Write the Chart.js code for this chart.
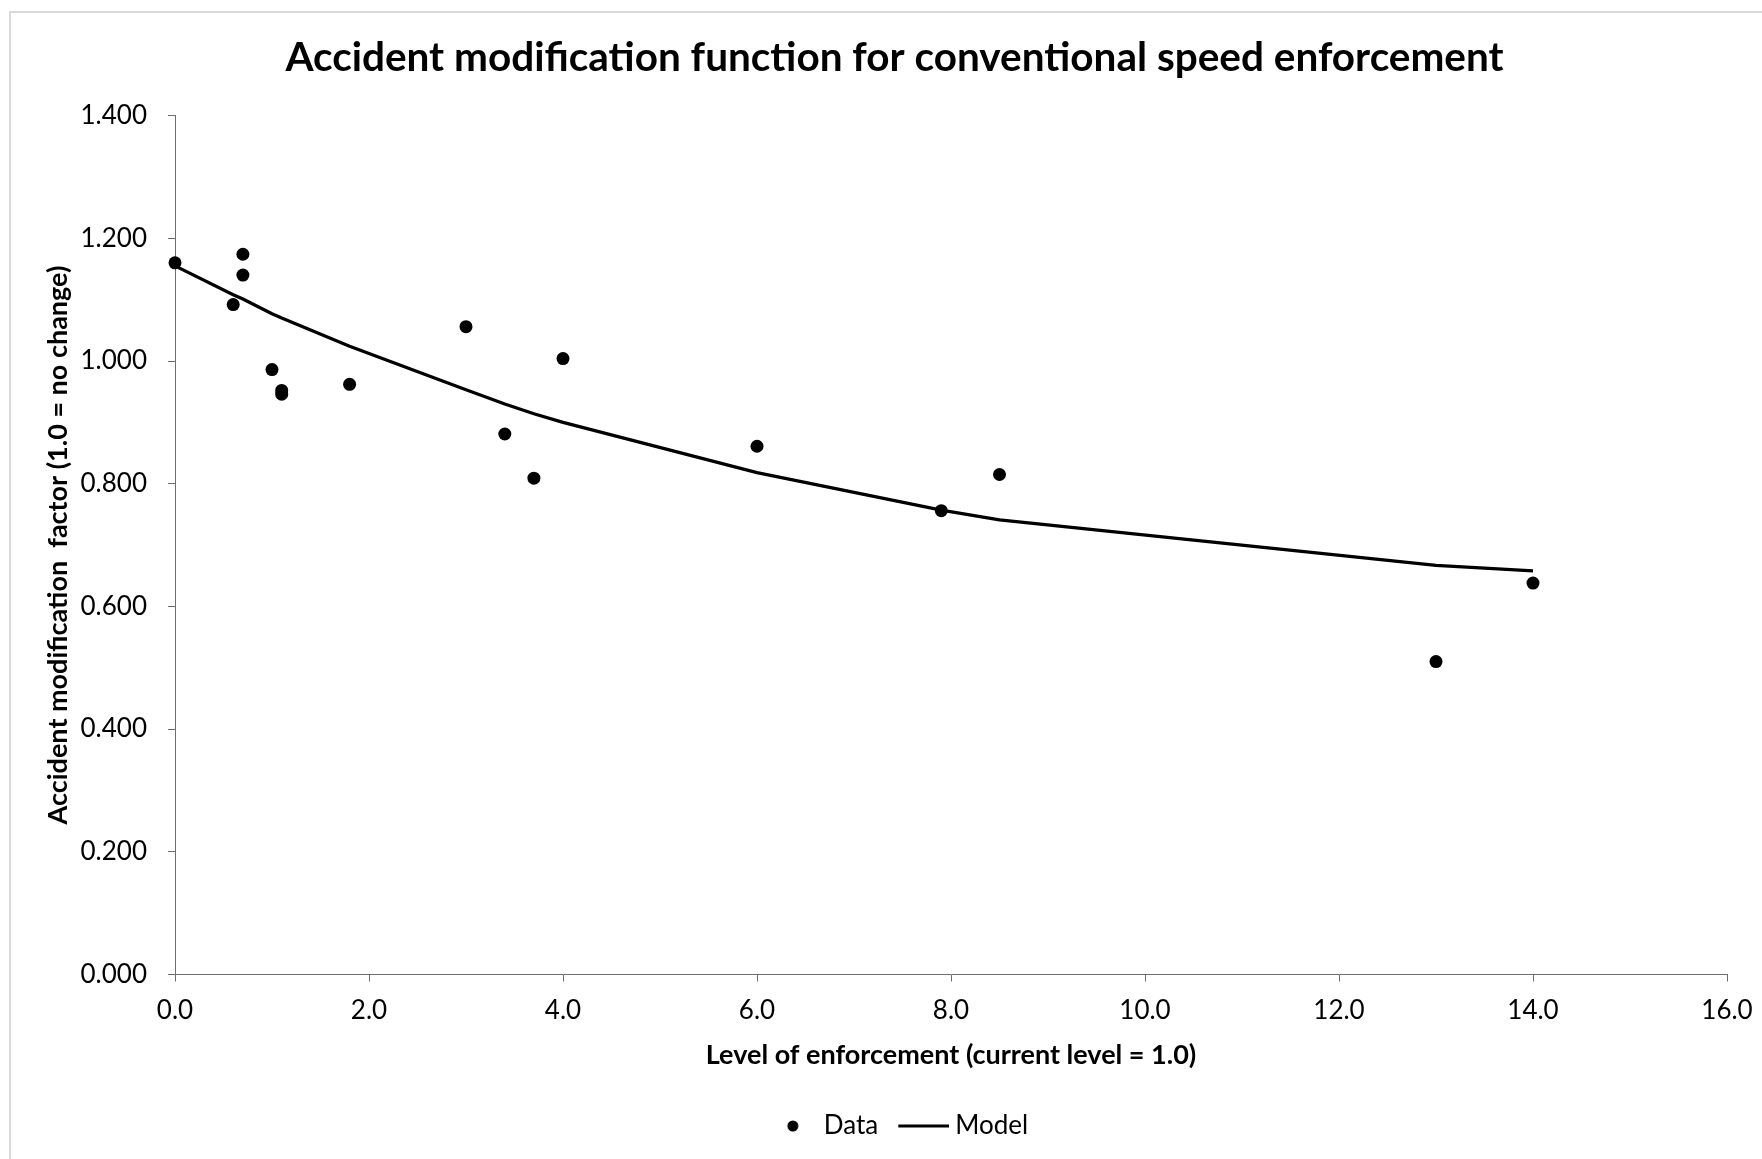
<!DOCTYPE html>
<html>
<head>
<meta charset="utf-8">
<title>Accident modification function</title>
<script src="https://cdn.jsdelivr.net/npm/chart.js@4.4.1/dist/chart.umd.min.js"></script>
<style>
  html, body { margin: 0; padding: 0; background: #fff; overflow: hidden; }
  #frame {
    position: absolute; left: 9px; top: 11px; width: 1800px; height: 1200px;
    border: 2px solid #d9d9d9; box-sizing: border-box;
  }
  #wrap { position: absolute; left: 0; top: 0; }
</style>
</head>
<body>
<div id="frame"></div>
<div id="wrap"><canvas id="amf-chart" width="1788" height="1159"></canvas></div>
<script>
// Valores
const dataX = [0.0, 0.6, 0.7, 0.7, 1.0, 1.1, 1.1, 1.8, 3.0, 3.4, 3.7, 4.0, 6.0, 7.9, 8.5, 13.0, 14.0];
const dataY = [1.160, 1.092, 1.174, 1.140, 0.986, 0.952, 0.946, 0.962, 1.056, 0.881, 0.809, 1.004, 0.861, 0.756, 0.815, 0.510, 0.638];

const modelX = [0.0, 0.6, 0.7, 1.0, 1.1, 1.8, 3.0, 3.4, 3.7, 4.0, 6.0, 7.9, 8.5, 13.0, 14.0];
const modelY = [1.155, 1.108, 1.101, 1.077, 1.070, 1.024, 0.953, 0.930, 0.914, 0.900, 0.818, 0.757, 0.741, 0.667, 0.658];

const seriesNames = ["Data", "Model"];

const FONT = "Lato, 'Open Sans', sans-serif";
const AXIS_COLOR = "#6e6e6e";

// Marcadores da legenda (desenhados em canvas pequenos)
const dot = document.createElement("canvas");
dot.width = 50;
dot.height = 12;
const dctx = dot.getContext("2d");
dctx.fillStyle = "#000";
dctx.beginPath();
dctx.arc(32, 6, 5.5, 0, Math.PI * 2);
dctx.fill();

const dash = document.createElement("canvas");
dash.width = 64;
dash.height = 4;
const lctx = dash.getContext("2d");
lctx.fillStyle = "#000";
lctx.fillRect(13, 0.5, 51, 3);

const ctx = document.getElementById("amf-chart").getContext("2d");
const amfChart = new Chart(ctx, {
  type: "scatter",
  data: {
    datasets: [
      {
        label: seriesNames[0],
        data: dataX.map((x, i) => ({ x: x, y: dataY[i] })),
        backgroundColor: "#000",
        borderWidth: 0,
        pointRadius: 6.5,
        pointHoverRadius: 6.5,
        showLine: false,
        clip: false,
      },
      {
        label: seriesNames[1],
        data: modelX.map((x, i) => ({ x: x, y: modelY[i] })),
        borderColor: "#000",
        borderWidth: 3.25,
        pointRadius: 0,
        showLine: true,
        tension: 0,
        clip: false,
      },
    ],
  },
  options: {
    responsive: false,
    animation: false,
    layout: { padding: { left: 62, right: 61, top: 0, bottom: 10 } },
    plugins: {
      tooltip: { enabled: false },
      title: {
        display: true,
        text: "Accident modification function for conventional speed enforcement",
        color: "#000",
        font: { family: FONT, size: 40.5, weight: "bold" },
        padding: { top: 34, bottom: 33 },
      },
      legend: {
        position: "bottom",
        labels: {
          usePointStyle: true,
          pointStyleWidth: 50,
          color: "#000",
          font: { family: FONT, size: 26 },
          padding: 14,
          generateLabels: () => [
            { text: seriesNames[0], pointStyle: dot, fillStyle: "#000", strokeStyle: "#000", lineWidth: 0, datasetIndex: 0, fontColor: "#000" },
            { text: seriesNames[1], pointStyle: dash, fillStyle: "#000", strokeStyle: "#000", lineWidth: 0, datasetIndex: 1, fontColor: "#000" },
          ],
        },
      },
    },
    scales: {
      x: {
        type: "linear",
        min: 0,
        max: 16,
        afterFit: (scale) => { scale.height = 124.5; },
        ticks: {
          stepSize: 2,
          color: "#000",
          font: { family: FONT, size: 26 },
          padding: 14,
          maxRotation: 0,
          callback: (v) => v.toFixed(1),
        },
        grid: { drawOnChartArea: false, drawTicks: true, tickLength: 7, color: AXIS_COLOR },
        border: { color: AXIS_COLOR, width: 1 },
        title: {
          display: true,
          text: "Level of enforcement (current level = 1.0)",
          color: "#000",
          font: { family: FONT, size: 27, weight: "bold" },
          padding: { top: 0, bottom: 27.5 },
        },
      },
      y: {
        min: 0,
        max: 1.4,
        afterFit: (scale) => { scale.width = 113; },
        ticks: {
          stepSize: 0.2,
          color: "#000",
          font: { family: FONT, size: 26 },
          padding: 21,
          callback: (v) => v.toFixed(3),
        },
        grid: { drawOnChartArea: false, drawTicks: true, tickLength: 7, color: AXIS_COLOR },
        border: { color: AXIS_COLOR, width: 1 },
        title: {
          display: true,
          text: "Accident modification  factor (1.0 = no change)",
          color: "#000",
          font: { family: FONT, size: 27, weight: "bold" },
          padding: { top: -20, bottom: 0 },
        },
      },
    },
  },
});
</script>
</body>
</html>
